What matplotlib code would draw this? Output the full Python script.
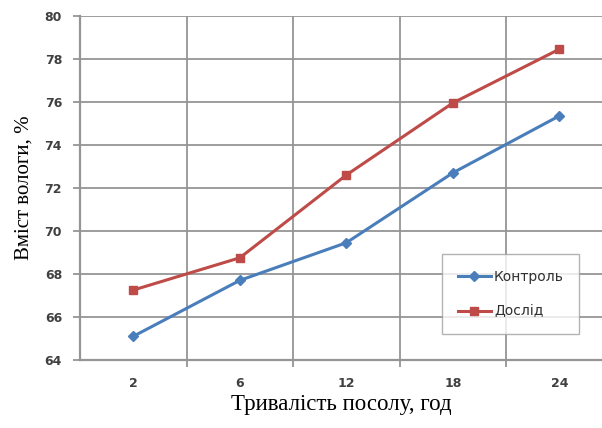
import numpy as np
import matplotlib.pyplot as plt
import matplotlib.ticker as ticker

# Data
hours = ['2', '6', '12', '18', '24']
kontrol = [65.1, 67.7, 69.45, 72.7, 75.35]
doslid = [67.25, 68.75, 72.6, 75.95, 78.45]
y_ticks = [64, 66, 68, 70, 72, 74, 76, 78, 80]

grid_col = '#959595'

fig = plt.figure(figsize=(6.02, 4.28), dpi=100)
ax = fig.add_axes([0.133, 0.159, 0.867, 0.804])

x = np.arange(len(hours))
ax.plot(x, kontrol, color='#4a7ebb', linewidth=2.2, marker='D', markersize=5,
        label='Контроль', zorder=3)
ax.plot(x, doslid, color='#be4b48', linewidth=2.2, marker='s', markersize=6,
        label='Дослід', zorder=3)

ax.set_ylim(64, 80)
ax.set_xlim(-0.5, 4.4)
ax.set_yticks(y_ticks)
ax.set_xticks(x)
ax.set_xticklabels(hours)
ax.xaxis.set_minor_locator(ticker.FixedLocator([0.5, 1.5, 2.5, 3.5]))

# gridlines: horizontal at major y, vertical at category boundaries
ax.grid(axis='y', which='major', color=grid_col, linewidth=1.3)
ax.grid(axis='x', which='minor', color=grid_col, linewidth=1.3)
ax.set_axisbelow(True)

ax.tick_params(axis='x', which='major', length=0, pad=12, labelsize=9)
ax.tick_params(axis='x', which='minor', length=5, width=1.3, color=grid_col)
ax.tick_params(axis='y', which='major', length=5, width=1.3, color=grid_col,
               labelsize=9, pad=8)
for lab in ax.get_xticklabels() + ax.get_yticklabels():
    lab.set_fontweight('bold')
    lab.set_color('#404040')

for side in ['top', 'right']:
    ax.spines[side].set_visible(False)
for side in ['left', 'bottom']:
    ax.spines[side].set_color(grid_col)
    ax.spines[side].set_linewidth(1.6)

ax.set_xlabel('Тривалість посолу, год', fontsize=16.5, family='Liberation Serif',
              labelpad=3)
ax.set_ylabel('Вміст вологи, %', fontsize=15, family='Liberation Serif',
              labelpad=8)

leg = ax.legend(loc='lower right', bbox_to_anchor=(0.956, 0.076), fontsize=10,
                frameon=True, fancybox=False, handlelength=2.4,
                borderpad=1.1, labelspacing=1.5, handletextpad=0.2,
                borderaxespad=0)
leg.get_frame().set_edgecolor('#a0a0a0')
leg.get_frame().set_linewidth(1.0)
for t in leg.get_texts():
    t.set_color('#303030')

plt.savefig('out.png', dpi=100)
